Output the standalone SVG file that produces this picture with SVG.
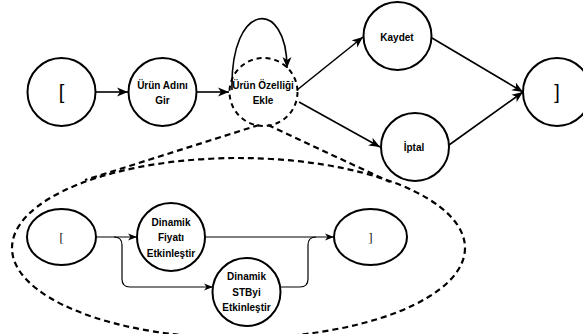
<svg xmlns="http://www.w3.org/2000/svg" width="583" height="334" viewBox="0 0 583 334">
<style>
.node{fill:#fff;stroke:#000;stroke-width:2}
.dnode{fill:none;stroke:#000;stroke-width:2;stroke-dasharray:5 4}
.lbl{font-family:"Liberation Sans",Arial,sans-serif;font-size:10px;font-weight:bold;text-anchor:middle;fill:#000}
.br{font-family:"Liberation Sans",Arial,sans-serif;font-size:20px;text-anchor:middle;fill:#000}
.ibr{font-family:"Liberation Serif","Times New Roman",serif;font-size:12px;text-anchor:middle;fill:#000}
.edge{fill:none;stroke:#000;stroke-width:1.6}
.iedge{fill:none;stroke:#000;stroke-width:1.2}
.dash{fill:none;stroke:#000;stroke-width:2.2;stroke-dasharray:6 4}
</style>
<defs>
<marker id="arr" markerUnits="userSpaceOnUse" markerWidth="11" markerHeight="10" viewBox="0 0 11 10" refX="11" refY="5" orient="auto">
<path d="M0,0.5 L11,5 L0,9.5 L3,5 z" fill="#000"/>
</marker>
<marker id="iarr" markerUnits="userSpaceOnUse" markerWidth="9" markerHeight="8" viewBox="0 0 9 8" refX="9" refY="4" orient="auto">
<path d="M0,0.5 L9,4 L0,7.5 L2.5,4 z" fill="#000"/>
</marker>
</defs>

<g id="connectors">
<ellipse class="dash" cx="238.5" cy="248" rx="226.5" ry="90"/>
<path class="dash" d="M259,125 L85,180"/>
<path class="dash" d="M268,125 L390,182"/>
<path class="edge" d="M96,92 L128,92" marker-end="url(#arr)"/>
<path class="edge" d="M197,92 L229,92" marker-end="url(#arr)"/>
<path class="edge" d="M232,90 C230,0 287,-2 287,68" marker-end="url(#arr)"/>
<path class="edge" d="M297,90 L363,37" marker-end="url(#arr)"/>
<path class="edge" d="M299,102 L380,147" marker-end="url(#arr)"/>
<path class="edge" d="M432,38 L523,92" marker-end="url(#arr)"/>
<path class="edge" d="M449,145 L523,92" marker-end="url(#arr)"/>
<path class="iedge" d="M96,237 L137,237" marker-end="url(#iarr)"/>
<path class="iedge" d="M114,237 Q122,237 122,245 L122,279 Q122,287 130,287 L213,287" marker-end="url(#iarr)"/>
<path class="iedge" d="M205,237 L334,237" marker-end="url(#iarr)"/>
<path class="iedge" d="M280,287 L300,287 Q308,287 308,279 L308,245 Q308,237 316,237"/>
</g>

<g id="start">
<circle class="node" cx="61.5" cy="92" r="34"/>
<text class="br" x="61.5" y="99">[</text>
</g>
<g id="urun-adini-gir">
<circle class="node" cx="162.5" cy="92" r="34"/>
<text class="lbl" x="162.5" y="89">Ürün Adını</text>
<text class="lbl" x="162.5" y="104">Gir</text>
</g>
<g id="urun-ozelligi-ekle">
<circle class="dnode" cx="263.5" cy="92" r="34"/>
<text class="lbl" x="263" y="89">Ürün Özelliği</text>
<text class="lbl" x="263" y="104">Ekle</text>
</g>
<g id="kaydet">
<circle class="node" cx="397.5" cy="36" r="34"/>
<text class="lbl" x="397" y="41">Kaydet</text>
</g>
<g id="iptal">
<circle class="node" cx="415" cy="147" r="34"/>
<text class="lbl" x="414" y="151">İptal</text>
</g>
<g id="end">
<circle class="node" cx="557" cy="92" r="34"/>
<text class="br" x="557" y="99">]</text>
</g>

<g id="inner-start">
<ellipse class="node" cx="61.5" cy="237" rx="34.5" ry="28"/>
<text class="ibr" x="61.5" y="242">[</text>
</g>
<g id="dinamik-fiyati">
<circle class="node" cx="171" cy="237" r="34"/>
<text class="lbl" x="171" y="225.5">Dinamik</text>
<text class="lbl" x="171" y="241">Fiyatı</text>
<text class="lbl" x="171" y="256.5">Etkinleştir</text>
</g>
<g id="dinamik-stbyi">
<circle class="node" cx="246.5" cy="292" r="34"/>
<text class="lbl" x="246.5" y="280">Dinamik</text>
<text class="lbl" x="246.5" y="295.5">STByi</text>
<text class="lbl" x="246.5" y="311">Etkinleştir</text>
</g>
<g id="inner-end">
<ellipse class="node" cx="370.5" cy="237" rx="36.5" ry="28"/>
<text class="ibr" x="370.5" y="242">]</text>
</g>
</svg>
